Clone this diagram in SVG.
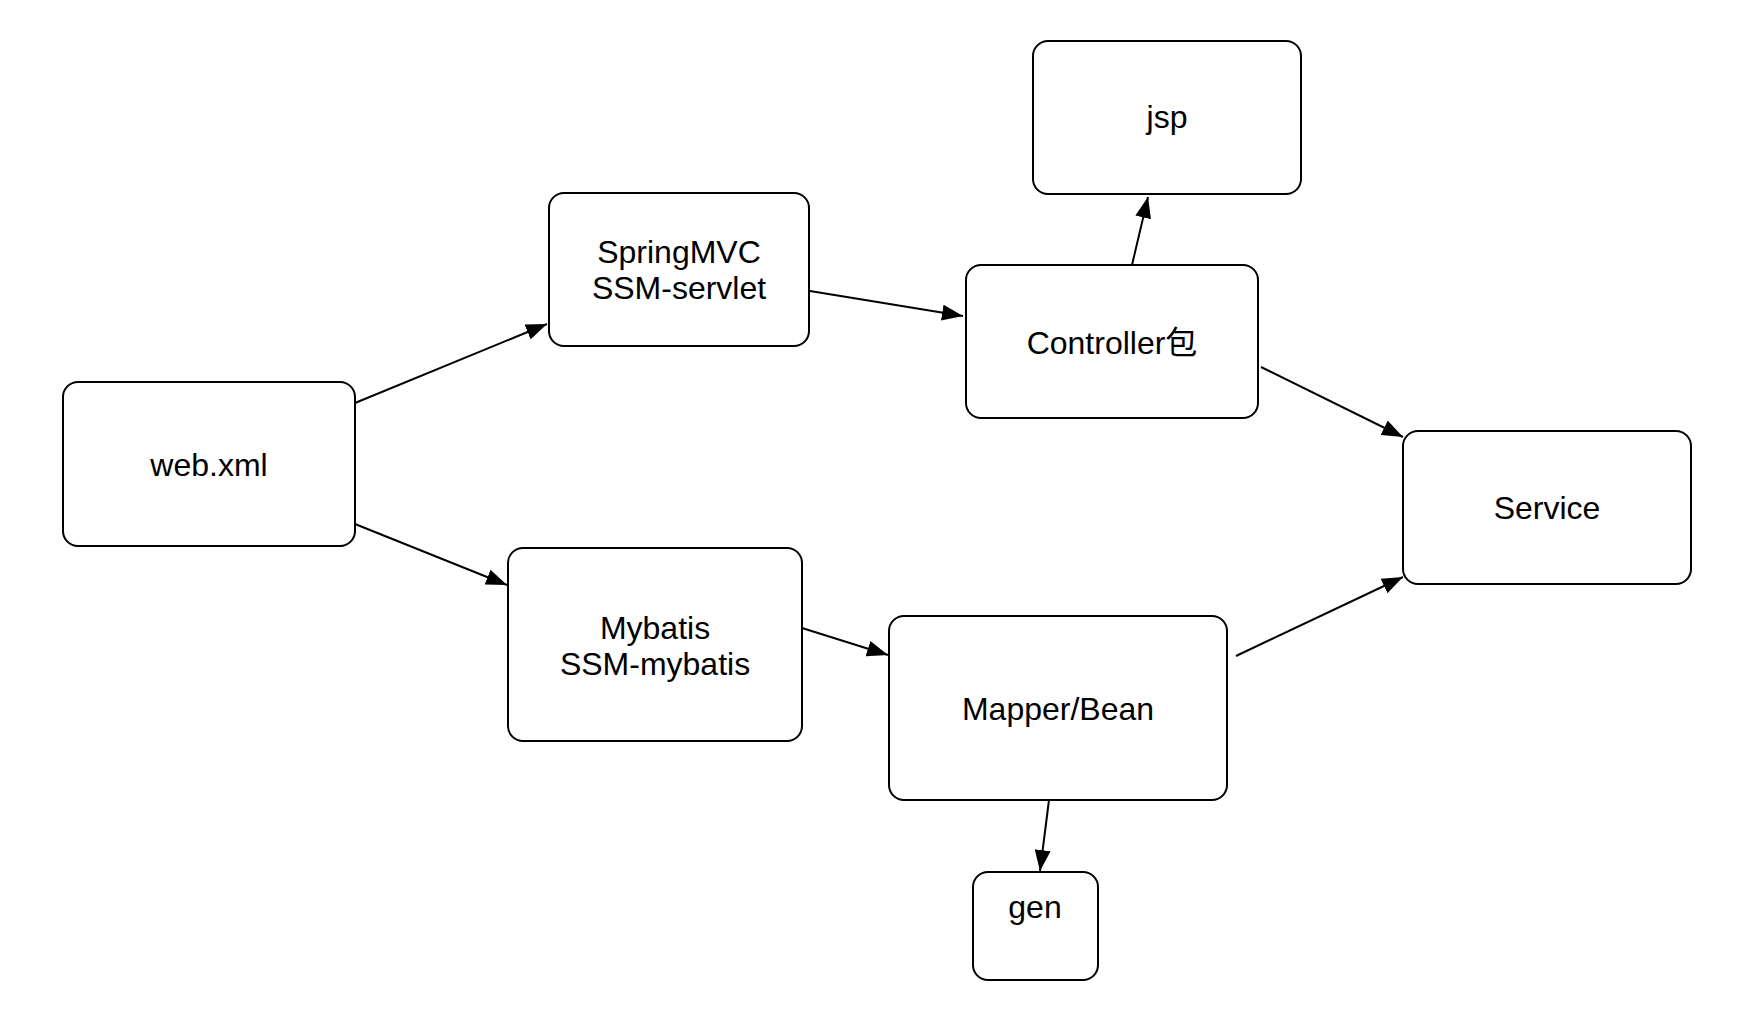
<svg xmlns="http://www.w3.org/2000/svg" width="1762" height="1034" viewBox="0 0 1762 1034">
<style>
.box{fill:#fff;stroke:#000;stroke-width:2}
.lbl{font-family:"Liberation Sans","Noto Sans CJK SC",Arial,sans-serif;font-size:32px;fill:#000;text-anchor:middle}
.edge{stroke:#000;stroke-width:2;fill:none;marker-end:url(#arr)}
</style>
<defs>
<marker id="arr" markerUnits="userSpaceOnUse" markerWidth="22" markerHeight="16" refX="21" refY="8" orient="auto">
<path d="M0,0 L21,8 L0,16 z" fill="#000"/>
</marker>
</defs>
<rect width="1762" height="1034" fill="#fff"/>
<g id="connectors">
<line class="edge" x1="355" y1="403" x2="547" y2="324"/>
<line class="edge" x1="355" y1="524" x2="507" y2="585"/>
<line class="edge" x1="810" y1="291" x2="963" y2="316"/>
<line class="edge" x1="1132" y1="265" x2="1148" y2="197"/>
<line class="edge" x1="1261" y1="367" x2="1403" y2="437"/>
<line class="edge" x1="802" y1="628" x2="888" y2="655"/>
<line class="edge" x1="1236" y1="656" x2="1403" y2="577"/>
<line class="edge" x1="1049" y1="800" x2="1040" y2="871"/>
</g>
<g id="web-xml">
<rect class="box" x="63" y="382" width="292" height="164" rx="15"/>
<text class="lbl" x="209" y="476">web.xml</text>
</g>
<g id="springmvc">
<rect class="box" x="549" y="193" width="260" height="153" rx="15"/>
<text class="lbl" x="679" y="263">SpringMVC</text>
<text class="lbl" x="679" y="299">SSM-servlet</text>
</g>
<g id="mybatis">
<rect class="box" x="508" y="548" width="294" height="193" rx="15"/>
<text class="lbl" x="655" y="639">Mybatis</text>
<text class="lbl" x="655" y="675">SSM-mybatis</text>
</g>
<g id="controller">
<rect class="box" x="966" y="265" width="292" height="153" rx="15"/>
<text class="lbl" x="1112" y="354">Controller包</text>
</g>
<g id="jsp">
<rect class="box" x="1033" y="41" width="268" height="153" rx="15"/>
<text class="lbl" x="1167" y="128">jsp</text>
</g>
<g id="service">
<rect class="box" x="1403" y="431" width="288" height="153" rx="15"/>
<text class="lbl" x="1547" y="519">Service</text>
</g>
<g id="mapper-bean">
<rect class="box" x="889" y="616" width="338" height="184" rx="15"/>
<text class="lbl" x="1058" y="720">Mapper/Bean</text>
</g>
<g id="gen">
<rect class="box" x="973" y="872" width="125" height="108" rx="15"/>
<text class="lbl" x="1035" y="918">gen</text>
</g>
</svg>
